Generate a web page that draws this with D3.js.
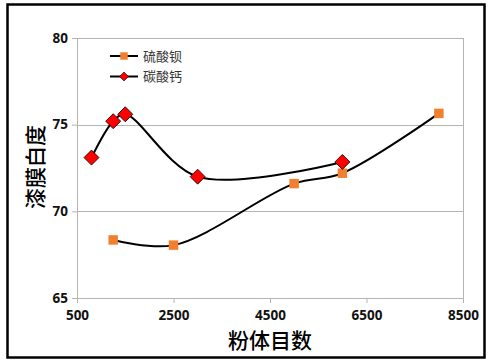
<!DOCTYPE html>
<html lang="zh">
<head>
  <meta charset="UTF-8">
  <script src="https://d3js.org/d3.v7.min.js"></script>
  <style>
    body { margin: 0; background: #fff; }
    svg { display: block; }
  </style>
  <title>漆膜白度</title>
</head>
<body>
  <script>
    // 硫酸钡 series
    const bariumX = [1250, 2500, 5000, 6000, 8000]
    const bariumY = [68.35, 68.05, 71.6, 72.2, 75.65]
    // 碳酸钙 series
    const calciumX = [800, 1250, 1500, 3000, 6000]
    const calciumY = [73.1, 75.2, 75.6, 72.0, 72.85]

    const seriesNames = ["硫酸钡", "碳酸钙"]
    const xTicks = [500, 2500, 4500, 6500, 8500]
    const yTicks = [65, 70, 75, 80]

    const dimensions = {
      width: 488,
      height: 363,
      margin: { top: 38, right: 25, bottom: 65, left: 77 }
    }
    dimensions.boundedWidth = dimensions.width - dimensions.margin.left - dimensions.margin.right
    dimensions.boundedHeight = dimensions.height - dimensions.margin.top - dimensions.margin.bottom

    const svg = d3.select("body")
        .append("svg")
        .attr("width", dimensions.width)
        .attr("height", dimensions.height)

    // outer frame
    svg.append("rect")
        .attr("x", 7.5)
        .attr("y", 4.5)
        .attr("width", 477)
        .attr("height", 353)
        .attr("fill", "none")
        .attr("stroke", "#000")
        .attr("stroke-width", 2.5)

    const bounds = svg.append("g")
        .attr("transform", `translate(${dimensions.margin.left}, ${dimensions.margin.top})`)

    /* Scales */
    const xScale = d3.scaleLinear()
        .domain([500, 8500])
        .range([0, dimensions.boundedWidth])
    const yScale = d3.scaleLinear()
        .domain([65, 80])
        .range([dimensions.boundedHeight, 0])

    // gridlines
    bounds.append("g")
        .selectAll("line")
        .data(yTicks.slice(1))
        .join("line")
        .attr("x1", 0)
        .attr("x2", dimensions.boundedWidth)
        .attr("y1", d => Math.round(yScale(d)) + 0.5)
        .attr("y2", d => Math.round(yScale(d)) + 0.5)
        .attr("stroke", "#b4b4b4")

    // right border of plot area
    bounds.append("line")
        .attr("x1", dimensions.boundedWidth + 0.5)
        .attr("x2", dimensions.boundedWidth + 0.5)
        .attr("y1", 0)
        .attr("y2", dimensions.boundedHeight)
        .attr("stroke", "#b4b4b4")

    const yAxis = bounds.append("g")
        .call(d3.axisLeft(yScale).tickValues(yTicks).tickSize(5).tickPadding(4))
    const xAxis = bounds.append("g")
        .attr("transform", `translate(0, ${dimensions.boundedHeight})`)
        .call(d3.axisBottom(xScale).tickValues(xTicks).tickSize(5).tickPadding(7).tickFormat(d3.format("d")))

    ;[yAxis, xAxis].forEach(ax => {
      ax.select(".domain").attr("stroke", "#b4b4b4")
      ax.selectAll(".tick line").attr("stroke", "#b4b4b4")
      ax.selectAll(".tick text")
          .attr("fill", "#111")
          .style("font-family", "'Open Sans', sans-serif")
          .style("font-weight", "bold")
          .style("font-size", "13.5px")
    })

    // axis titles
    svg.append("text")
        .attr("x", 270)
        .attr("y", 348)
        .attr("text-anchor", "middle")
        .style("font-family", "'Noto Sans CJK SC', sans-serif")
        .style("font-weight", 500)
        .style("font-size", "21px")
        .text("粉体目数")
    svg.append("text")
        .attr("transform", "translate(43, 167) rotate(-90)")
        .attr("text-anchor", "middle")
        .style("font-family", "'Noto Sans CJK SC', sans-serif")
        .style("font-weight", 500)
        .style("font-size", "21px")
        .text("漆膜白度")

    const lineGen = d3.line()
        .x(d => xScale(d[0]))
        .y(d => yScale(d[1]))
        .curve(d3.curveCatmullRom)

    const barium = d3.zip(bariumX, bariumY)
    const calcium = d3.zip(calciumX, calciumY)

    ;[barium, calcium].forEach(pts => {
      bounds.append("path")
          .attr("d", lineGen(pts))
          .attr("fill", "none")
          .attr("stroke", "#000")
          .attr("stroke-width", 2)
    })

    const square = d3.symbol().type(d3.symbolSquare).size(90)
    const diamond = s => `M0,${-s}L${s},0L0,${s}L${-s},0Z`

    bounds.append("g")
        .selectAll("path")
        .data(barium)
        .join("path")
        .attr("transform", d => `translate(${xScale(d[0])}, ${yScale(d[1])})`)
        .attr("d", square)
        .attr("fill", "#f08030")

    bounds.append("g")
        .selectAll("path")
        .data(calcium)
        .join("path")
        .attr("transform", d => `translate(${xScale(d[0])}, ${yScale(d[1])})`)
        .attr("d", diamond(7.5))
        .attr("fill", "#ff0000")
        .attr("stroke", "#000")
        .attr("stroke-width", 0.8)

    // legend
    const legend = svg.append("g")
        .attr("transform", "translate(110, 56)")
    seriesNames.forEach((name, i) => {
      const row = legend.append("g").attr("transform", `translate(0, ${i * 20.5})`)
      row.append("line")
          .attr("x1", 0).attr("x2", 28)
          .attr("stroke", "#000").attr("stroke-width", 2)
      if (i === 0) {
        row.append("path")
            .attr("transform", "translate(14, 0)")
            .attr("d", d3.symbol().type(d3.symbolSquare).size(56))
            .attr("fill", "#f08030")
      } else {
        row.append("path")
            .attr("transform", "translate(14, 0)")
            .attr("d", diamond(4.5))
            .attr("fill", "#ff0000")
            .attr("stroke", "#000")
            .attr("stroke-width", 0.6)
      }
      row.append("text")
          .attr("x", 33)
          .attr("dy", "0.35em")
          .attr("fill", "#333")
          .style("font-family", "'Noto Sans CJK SC', sans-serif")
          .style("font-size", "13px")
          .text(name)
    })
  </script>
</body>
</html>
